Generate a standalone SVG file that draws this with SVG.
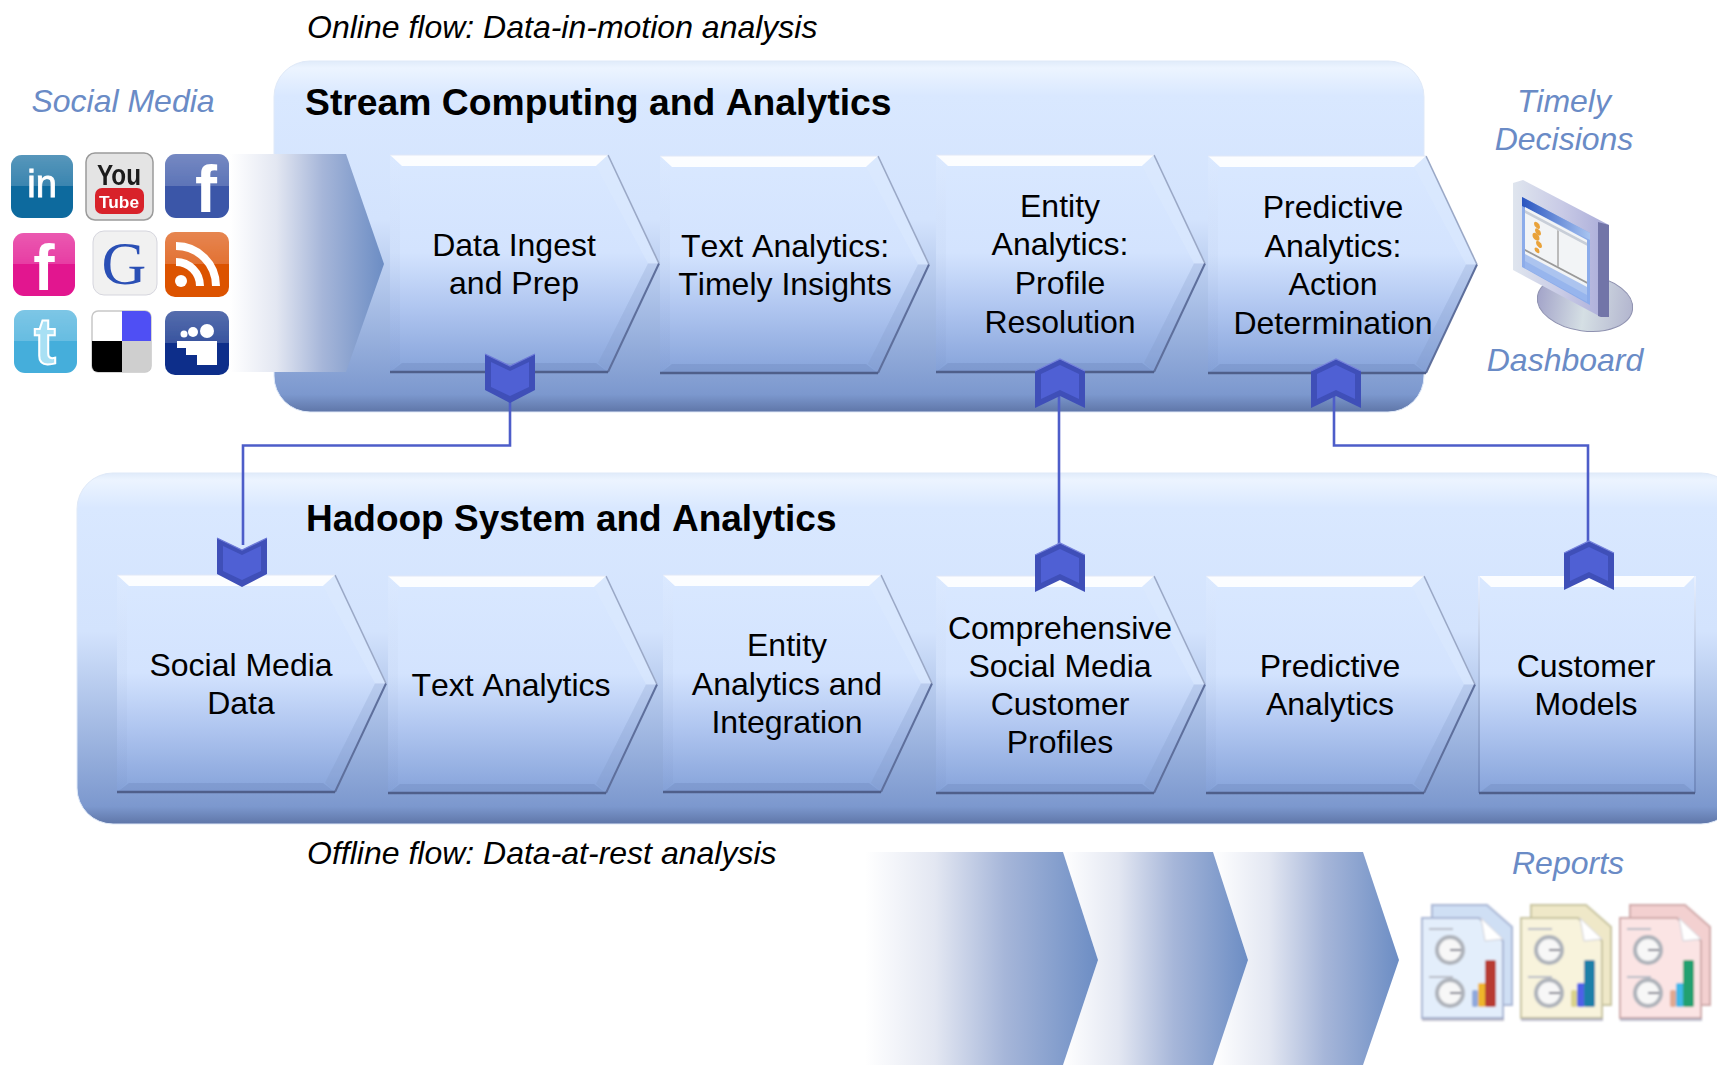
<svg xmlns="http://www.w3.org/2000/svg" width="1717" height="1065" viewBox="0 0 1717 1065">
<style>
text{font-family:"Liberation Sans",Arial,sans-serif}
.t{font-size:32px;text-anchor:middle;fill:#000;font-kerning:none}
.h{font-size:37.300px;font-weight:bold;fill:#000;font-kerning:none}
.i{font-size:32px;font-style:italic;fill:#000}
.l{font-size:32px;font-style:italic;fill:#6a8bc6;text-anchor:middle}
.w{fill:#fff;font-weight:bold;text-anchor:middle}
.conn{fill:none;stroke:#4d5dc9;stroke-width:2.600}
.ic{filter:url(#soft)}
.ic2{filter:url(#soft2)}
</style>
<defs>
<filter id="soft" x="-5%" y="-5%" width="110%" height="110%"><feGaussianBlur stdDeviation="0.6"/></filter>
<filter id="soft2" x="-5%" y="-5%" width="110%" height="110%"><feGaussianBlur stdDeviation="1"/></filter>
<linearGradient id="pedge" x1="0" y1="0" x2="0" y2="1"><stop offset="0" stop-color="#e0ebfa"/><stop offset=".02" stop-color="#ecf4ff"/><stop offset=".1" stop-color="#d9e8ff"/><stop offset=".45" stop-color="#d3e3fd"/><stop offset=".95" stop-color="#7c98ce"/><stop offset="1" stop-color="#5f76a8"/></linearGradient>
<linearGradient id="cg" x1="0" y1="0" x2="0" y2="1"><stop offset="0" stop-color="#d9e8ff"/><stop offset=".45" stop-color="#d3e3fe"/><stop offset=".7" stop-color="#b0c6f0"/><stop offset="1" stop-color="#86a3da"/></linearGradient>
<linearGradient id="lb" x1="0" y1="0" x2="0" y2="1"><stop offset="0" stop-color="#e8f0ff"/><stop offset=".5" stop-color="#a9bbdc"/><stop offset="1" stop-color="#6f88bd"/></linearGradient>
<linearGradient id="srcg" x1="0" y1="0" x2="1" y2="0"><stop offset="0" stop-color="#fff"/><stop offset=".3" stop-color="#e3e7f2"/><stop offset=".6" stop-color="#a6b6d9"/><stop offset="1" stop-color="#6c8dc4"/></linearGradient>
<linearGradient id="shine" x1="0" y1="0" x2="0" y2="1"><stop offset="0" stop-color="#fff" stop-opacity=".3"/><stop offset=".5" stop-color="#fff" stop-opacity=".18"/><stop offset=".5" stop-color="#fff" stop-opacity="0"/></linearGradient>
<linearGradient id="scr" x1="0" y1="0" x2="1" y2="0"><stop offset="0" stop-color="#dfe5ee"/><stop offset=".5" stop-color="#c9cbe6"/><stop offset="1" stop-color="#a9abd8"/></linearGradient>
<linearGradient id="base" x1="0" y1="0" x2="1" y2="0"><stop offset="0" stop-color="#a3a4c9"/><stop offset=".5" stop-color="#d5dfe4"/><stop offset="1" stop-color="#b3b6cf"/></linearGradient>
<linearGradient id="sband" x1="0" y1="0" x2="1" y2="0"><stop offset="0" stop-color="#2a55c0"/><stop offset="1" stop-color="#a8c4f0"/></linearGradient>
<g id="chev">
<polygon points="0,0 218,0 269,108.500 218,217 0,217" fill="url(#cg)"/>
<polygon points="0,0 218,0 206,11 12,11" fill="#fff" fill-opacity=".9"/>
<polygon points="218,0 269,108.500 258,108.500 206,11" fill="#dce9fe" fill-opacity=".5"/>
<polygon points="0,217 218,217 206,208 12,208" fill="#6d86bb" fill-opacity=".35"/>
<polygon points="218,217 269,108.500 258,108.500 208,208" fill="#7a90c0" fill-opacity=".22"/>
<polygon points="0,0 10,10 10,208 0,217" fill="url(#lb)" fill-opacity=".12"/>
<path d="M218,0 269,108.500" fill="none" stroke="#9aa8c6" stroke-width="1.600"/>
<path d="M269,108.500 218,217" fill="none" stroke="#5e6f9c" stroke-width="2"/>
<path d="M0,0V217" fill="none" stroke="url(#lb)" stroke-width="2"/>
<path d="M0,217H218" fill="none" stroke="#4f5f8a" stroke-width="2.500"/>
<path d="M0,0H218" fill="none" stroke="#dfe8f8" stroke-width="1.200"/>
</g>
<g id="flagdown">
<polygon points="0,0 25,12 50,0 50,36 25,49 0,36" fill="#3f4fb8"/>
<polygon points="6,8 25,17 44,8 44,33 25,42 6,33" fill="#4f60d4"/>
<path d="M0,0 25,12 50,0" fill="none" stroke="#6d7ad8" stroke-width="1.200"/>
</g>
<g id="flagup">
<polygon points="0,12 25,0 50,12 50,49 25,37 0,49" fill="#3f4fb8"/>
<polygon points="6,15 25,6 44,15 44,40 25,31 6,40" fill="#4f60d4"/>
<path d="M0,12 25,0 50,12" fill="none" stroke="#7683dc" stroke-width="1.200"/>
</g>
<g id="doc">
<polygon points="9,0 64,0 89,22 89,100 9,100" style="fill:var(--b);stroke:var(--e)" stroke-width="2"/>
<polygon points="-1,13 56,13 80,36 80,113 -1,113" style="fill:var(--a);stroke:var(--e)" stroke-width="2"/>
<polygon points="58,13 80,34 62,36" fill="#fff" stroke="#d0d0d8"/>
<rect x="-1" y="113" width="82" height="3" fill="#9a9ab0" opacity=".6"/>
<path d="M6,24H30M6,72H30" stroke="#b8bcc6" stroke-width="2"/>
<circle cx="27" cy="45" r="13" fill="#f7f7f7" stroke="#aeb2ba" stroke-width="4"/>
<circle cx="27" cy="88" r="13" fill="#f7f7f7" stroke="#aeb2ba" stroke-width="4"/>
<path d="M27,45H38M27,88H38" stroke="#778" stroke-width="2"/>
<rect x="49" y="85" width="6" height="17" rx="2" style="fill:var(--c1)"/>
<rect x="55" y="78" width="8" height="24" rx="2" style="fill:var(--c2)"/>
<rect x="62" y="55" width="11" height="47" rx="2" style="fill:var(--c3)"/>
</g>
</defs>

<g id="panel-stream">
<rect x="274" y="61" width="1150" height="351" rx="36" fill="url(#pedge)" stroke="#dfe9f8" stroke-width="1"/>
<text class="h" x="305" y="115">Stream Computing and Analytics</text>
</g>
<g id="panel-hadoop">
<rect x="77" y="473" width="1660" height="351" rx="36" fill="url(#pedge)" stroke="#dfe9f8" stroke-width="1"/>
<text class="h" x="306" y="531" style="font-size:37px">Hadoop System and Analytics</text>
</g>

<g id="flow-in"><polygon points="230,154 346,154 384,264 346,372 230,372" fill="url(#srcg)"/></g>

<g id="s1" transform="translate(390,155)"><use href="#chev"/><text class="t"><tspan x="124" y="101">Data Ingest</tspan><tspan x="124" y="139">and Prep</tspan></text></g>
<g id="s2" transform="translate(660,156)"><use href="#chev"/><text class="t"><tspan x="125" y="101">Text Analytics:</tspan><tspan x="125" y="139">Timely Insights</tspan></text></g>
<g id="s3" transform="translate(936,155)"><use href="#chev"/><text class="t"><tspan x="124" y="62">Entity</tspan><tspan x="124" y="100">Analytics:</tspan><tspan x="124" y="139">Profile</tspan><tspan x="124" y="178">Resolution</tspan></text></g>
<g id="s4" transform="translate(1208,156)"><use href="#chev"/><text class="t"><tspan x="125" y="62">Predictive</tspan><tspan x="125" y="101">Analytics:</tspan><tspan x="125" y="139">Action</tspan><tspan x="125" y="178">Determination</tspan></text></g>

<g id="h1" transform="translate(117,575)"><use href="#chev"/><text class="t"><tspan x="124" y="101">Social Media</tspan><tspan x="124" y="139">Data</tspan></text></g>
<g id="h2" transform="translate(388,576)"><use href="#chev"/><text class="t"><tspan x="123" y="120">Text Analytics</tspan></text></g>
<g id="h3" transform="translate(663,575)"><use href="#chev"/><text class="t"><tspan x="124" y="81">Entity</tspan><tspan x="124" y="120">Analytics and</tspan><tspan x="124" y="158">Integration</tspan></text></g>
<g id="h4" transform="translate(936,576)"><use href="#chev"/><text class="t"><tspan x="124" y="63">Comprehensive</tspan><tspan x="124" y="101">Social Media</tspan><tspan x="124" y="139">Customer</tspan><tspan x="124" y="177">Profiles</tspan></text></g>
<g id="h5" transform="translate(1206,576)"><use href="#chev"/><text class="t"><tspan x="124" y="101">Predictive</tspan><tspan x="124" y="139">Analytics</tspan></text></g>
<g id="h6" transform="translate(1479,576)">
<rect width="216" height="217" fill="url(#cg)"/>
<polygon points="0,0 216,0 205,11 12,11" fill="#fff" fill-opacity=".9"/>
<polygon points="0,217 216,217 205,208 12,208" fill="#6d86bb" fill-opacity=".35"/>
<path d="M0,0V217M216,0V217" fill="none" stroke="url(#lb)" stroke-width="2"/><path d="M0,217H216" stroke="#4f5f8a" stroke-width="2.500"/>
<text class="t"><tspan x="107" y="101">Customer</tspan><tspan x="107" y="139">Models</tspan></text>
</g>

<g id="connectors">
<path class="conn" d="M510,395V445.500H243V545"/>
<path class="conn" d="M1059,395V550"/>
<path class="conn" d="M1334,395V445.500H1588V548"/>
<use href="#flagdown" x="485" y="354"/>
<use href="#flagdown" x="217" y="538"/>
<use href="#flagup" x="1035" y="359"/>
<use href="#flagup" x="1311" y="359"/>
<use href="#flagup" x="1035" y="543"/>
<use href="#flagup" x="1564" y="541"/>
</g>

<g id="flow-out">
<polygon points="1213,852 1363,852 1399,960 1363,1065 1213,1065 1248,960" fill="url(#srcg)"/>
<polygon points="1063,852 1213,852 1248,960 1213,1065 1063,1065 1098,960" fill="url(#srcg)"/>
<polygon points="865,852 1063,852 1098,960 1063,1065 865,1065" fill="url(#srcg)"/>
</g>

<g id="social-icons">
<g class="ic" id="ic-linkedin"><rect x="11" y="155" width="62" height="63" rx="11" fill="#0f6a9e"/><rect x="11" y="155" width="62" height="63" rx="11" fill="url(#shine)"/><text x="42" y="197" font-size="38" text-anchor="middle" fill="#fff" stroke="#fff" stroke-width=".8">in</text></g>
<g class="ic" id="ic-youtube"><rect x="86" y="153" width="67" height="67" rx="9" fill="#e4e4e4" stroke="#9a9a9a" stroke-width="1.500"/><text x="119" y="185" font-size="30" font-weight="bold" text-anchor="middle" fill="#1a1a1a" textLength="44" lengthAdjust="spacingAndGlyphs">You</text><rect x="95" y="188" width="49" height="26" rx="7" fill="#d8202c"/><text class="w" x="119" y="208" font-size="17" textLength="40" lengthAdjust="spacingAndGlyphs">Tube</text></g>
<g class="ic" id="ic-facebook"><rect x="165" y="154" width="64" height="64" rx="11" fill="#3a56a8"/><rect x="165" y="154" width="64" height="64" rx="11" fill="url(#shine)"/><text class="w" x="206" y="212" font-size="66">f</text></g>
<g class="ic" id="ic-flickr"><rect x="13" y="233" width="62" height="63" rx="11" fill="#e2128f"/><rect x="13" y="233" width="62" height="63" rx="11" fill="url(#shine)"/><text class="w" x="44" y="290" font-size="64">f</text></g>
<g class="ic" id="ic-google"><rect x="93" y="231" width="64" height="64" rx="11" fill="#f1f1f1" stroke="#d5d5dd"/><text x="124" y="284" font-size="62" text-anchor="middle" fill="#2b4fb5" style="font-family:'Liberation Serif',serif">G</text></g>
<g class="ic" id="ic-rss"><rect x="165" y="232" width="64" height="65" rx="10" fill="#dc5206"/><rect x="165" y="232" width="64" height="65" rx="10" fill="url(#shine)"/><circle cx="181" cy="281" r="6" fill="#fff"/><path d="M176,262A24,24 0 0 1 200,286M176,246A40,40 0 0 1 216,286" fill="none" stroke="#fff" stroke-width="8"/></g>
<g class="ic" id="ic-twitter"><rect x="14" y="310" width="63" height="63" rx="11" fill="#45aedb"/><rect x="14" y="310" width="63" height="63" rx="11" fill="url(#shine)"/><text x="45" y="364" font-size="66" font-weight="bold" text-anchor="middle" fill="#a8e0f4" stroke="#fff" stroke-width="2">t</text></g>
<g class="ic" id="ic-delicious"><rect x="92" y="311" width="59" height="61" rx="6" fill="#fff" stroke="#c8c8c8" stroke-width="1.500"/><path d="M122,311H145A6,6 0 0 1 151,317V341H122Z" fill="#5050f4"/><path d="M92,341H122V372H98A6,6 0 0 1 92,366Z" fill="#000"/><path d="M122,341H151V366A6,6 0 0 1 145,372H122Z" fill="#cfcfcf"/></g>
<g class="ic" id="ic-myspace"><rect x="165" y="311" width="64" height="64" rx="10" fill="#0d2f8a"/><rect x="165" y="311" width="64" height="64" rx="10" fill="url(#shine)"/><circle cx="207" cy="331" r="7" fill="#fff"/><circle cx="193" cy="332" r="5" fill="#fff"/><circle cx="184" cy="334" r="3.500" fill="#fff"/><path d="M177,341H217V365H197V355H186V348H177Z" fill="#fff"/></g>
</g>

<g id="dashboard">
<ellipse cx="1585" cy="303" rx="48" ry="28" fill="url(#base)" stroke="#8f92b0" transform="rotate(8 1585 303)"/>
<polygon points="1513,183 1523,180 1609,225 1609,317 1601,317 1513,270" fill="url(#scr)"/>
<polygon points="1598,222 1609,225 1609,317 1601,317 1598,316" fill="#7275a8"/>
<polygon points="1522,197 1590,233 1590,305 1522,267" fill="#8cacea"/>
<polygon points="1522,197 1590,233 1590,240 1522,206" fill="url(#sband)"/>
<polygon points="1525,207 1587,240 1587,295 1525,261" fill="#f2f4f6"/>
<g transform="matrix(1,.53,0,1,1525,207)" fill="#e9a23a"><circle cx="12" cy="12" r="3"/><circle cx="13" cy="18" r="3"/><circle cx="11" cy="24" r="3.500"/><circle cx="14" cy="30" r="3"/><circle cx="12" cy="37" r="2.500"/><rect x="0" y="3" width="62" height="3" fill="#c8ced8"/><rect x="32" y="6" width="2" height="36" fill="#bbb"/><rect x="0" y="42" width="62" height="2" fill="#999"/></g>
<polygon points="1525,254 1587,287 1587,302 1525,268" fill="#9ab8ee" opacity=".8"/>
</g>

<g id="reports" class="ic2">
<use href="#doc" x="1423" y="905" style="--a:#e3eefb;--b:#cfdff4;--e:#a9b6d4;--c1:#8fa8dc;--c2:#eeb52c;--c3:#b83a30"/>
<use href="#doc" x="1522" y="905" style="--a:#f8f3dc;--b:#efe8c8;--e:#c8c4a0;--c1:#d8d28a;--c2:#5060e8;--c3:#1f7fa8"/>
<use href="#doc" x="1621" y="905" style="--a:#fbe4e4;--b:#f3d0d0;--e:#d0aaaa;--c1:#e0a890;--c2:#40b8e8;--c3:#20a070"/>
</g>

<g id="labels">
<text class="i" x="307" y="38">Online flow: Data-in-motion analysis</text>
<text class="i" x="307" y="864">Offline flow: Data-at-rest analysis</text>
<text class="l" x="123" y="112">Social Media</text>
<text class="l"><tspan x="1564" y="112">Timely</tspan><tspan x="1564" y="150">Decisions</tspan></text>
<text class="l" x="1565" y="371">Dashboard</text>
<text class="l" x="1568" y="874">Reports</text>
</g>
</svg>
